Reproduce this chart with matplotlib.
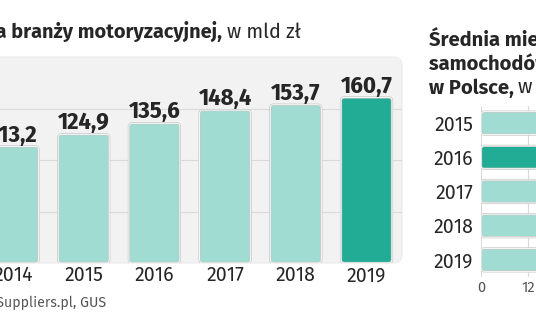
import matplotlib
matplotlib.use("Agg")
import matplotlib.pyplot as plt
from matplotlib.patches import FancyBboxPatch
from matplotlib.transforms import IdentityTransform

# Sold production of the automotive industry, bn PLN
years = ["2014", "2015", "2016", "2017", "2018", "2019"]
production = [113.2, 124.9, 135.6, 148.4, 153.7, 160.7]
production_labels = ["113,2", "124,9", "135,6", "148,4", "153,7", "160,7"]

# Average monthly registrations, thousands
reg_years = ["2015", "2016", "2017", "2018", "2019"]
registrations = [29.6, 35.1, 40.5, 44.3, 46.3]
reg_ticks = [0, 12, 24, 36, 48]

LIGHT = "#a0dcd2"
DARK = "#22ac96"
EDGE = "#c4c8c7"
TEXT = "#262626"

W, H = 536, 332
fig = plt.figure(figsize=(W / 100, H / 100), dpi=100)
fig.patch.set_facecolor("white")

REG = ["Fira Sans", "Open Sans", "DejaVu Sans"]
NARROW = ["Fira Sans Condensed", "DejaVu Sans"]


def px(x, y, w, h):
    return [x / W, (H - y - h) / H, w / W, h / H]


def rounded_bar(ax, x0, y0, w, h, color, r_x, aspect):
    outer = FancyBboxPatch((x0, y0), w, h,
                           boxstyle=f"round,pad=0,rounding_size={r_x}",
                           mutation_aspect=aspect, facecolor=color,
                           edgecolor=EDGE, linewidth=1.6, zorder=3)
    inner = FancyBboxPatch((x0, y0), w, h,
                           boxstyle=f"round,pad=0,rounding_size={r_x}",
                           mutation_aspect=aspect, facecolor="none",
                           edgecolor="white", linewidth=0.6, zorder=4)
    ax.add_patch(outer)
    ax.add_patch(inner)


# ---- left panel: vertical bars ----
ax = fig.add_axes(px(0, 57, 402, 206))
bg = FancyBboxPatch((-20, H - 263), 422, 206,
                    boxstyle="round,pad=0,rounding_size=9",
                    transform=IdentityTransform(), facecolor="#f2f2f2",
                    edgecolor="#ebebeb", linewidth=0.8, zorder=-1)
bg.set_figure(fig)
fig.patches.append(bg)

step_px = 70.7
xs = list(range(len(years)))
ax.set_xlim(-13 / step_px, (402 - 13) / step_px)
ax.set_ylim(0, 200)
ax.set_facecolor("none")
for s in ax.spines.values():
    s.set_visible(False)
ax.set_yticks([50, 100, 150])
ax.yaxis.grid(True, color="#dadada", linewidth=0.8)
ax.set_axisbelow(True)
ax.tick_params(axis="y", left=False, labelleft=False, length=0)
ax.tick_params(axis="x", bottom=False, length=0, pad=2, labelsize=14,
               labelcolor=TEXT)
ax.set_xticks(xs)
ax.set_xticklabels(years, fontfamily=REG)

bars = ax.bar(xs, production, width=51 / step_px, color="none")
unit_x = 1 / step_px          # data units per pixel horizontally
unit_y = 200 / 206            # data units per pixel vertically
for i, b in enumerate(bars):
    b.set_visible(False)
    color = DARK if i == len(bars) - 1 else LIGHT
    rounded_bar(ax, b.get_x(), b.get_y(), b.get_width(), b.get_height(),
                color, 3.5 * unit_x, unit_y / unit_x)
    ax.annotate(production_labels[i], (b.get_x() + b.get_width() / 2, b.get_height()),
                xytext=(0, 3.5), textcoords="offset points", ha="center",
                va="baseline", fontsize=17.5, fontweight="bold",
                fontfamily=NARROW, color=TEXT, zorder=5)

# title and source of the left panel
fig.text(222 / W, (H - 38) / H, "Produkcja sprzedana branży motoryzacyjnej,",
         ha="right", va="baseline", fontsize=14.3, fontweight="bold",
         fontfamily=REG, color=TEXT)
fig.text(227 / W, (H - 38) / H, "w mld zł", ha="left", va="baseline",
         fontsize=14.2, fontfamily=REG, color=TEXT)
fig.text(106 / W, (H - 307) / H, "Źródło: Automotive Suppliers.pl, GUS",
         ha="right", va="baseline", fontsize=10.2, fontfamily=REG,
         color="#555555")

# ---- right panel: horizontal bars ----
ax2 = fig.add_axes(px(481, 106, 236, 171))
ax2.set_xlim(0, 60)
ax2.set_ylim(len(reg_years) - 0.5, -0.5)
ax2.set_facecolor("none")
for s in ax2.spines.values():
    s.set_visible(False)
ax2.set_xticks(reg_ticks)
ax2.set_xticklabels([str(t) for t in reg_ticks], fontfamily=REG)
ax2.xaxis.grid(True, color="#dadada", linewidth=0.8)
ax2.set_axisbelow(True)
ax2.tick_params(axis="x", bottom=False, length=0, pad=2.5, labelsize=10.5,
                labelcolor="#555555")
ys = list(range(len(reg_years)))
ax2.set_yticks(ys)
ax2.set_yticklabels(reg_years, fontfamily=REG)
ax2.tick_params(axis="y", left=False, length=0, pad=5.8, labelsize=14,
                labelcolor=TEXT)

hbars = ax2.barh(ys, registrations, height=0.67, color="none")
ux = 60 / 236
uy = 5 / 171
for i, b in enumerate(hbars):
    b.set_visible(False)
    color = DARK if reg_years[i] == "2016" else LIGHT
    rounded_bar(ax2, b.get_x(), b.get_y(), b.get_width(), b.get_height(),
                color, 3.5 * ux, uy / ux)

# title of the right panel
tx = 429 / W
fig.text(tx, (H - 47) / H, "Średnia miesięczna liczba rejestracji",
         ha="left", va="baseline", fontsize=14.5, fontweight="bold",
         fontfamily=REG, color=TEXT)
fig.text(tx, (H - 70.5) / H, "samochodów osobowych",
         ha="left", va="baseline", fontsize=14.5, fontweight="bold",
         fontfamily=REG, color=TEXT)
t3 = fig.text(tx, (H - 94) / H, "w Polsce,", ha="left", va="baseline",
              fontsize=14.5, fontweight="bold", fontfamily=REG, color=TEXT)
fig.canvas.draw()
bb = t3.get_window_extent()
fig.text((bb.x1 + 4) / W, (H - 94) / H, "w tys.", ha="left", va="baseline",
         fontsize=14.5, fontfamily=REG, color=TEXT)

fig.savefig("out.png", dpi=100, facecolor="white")
